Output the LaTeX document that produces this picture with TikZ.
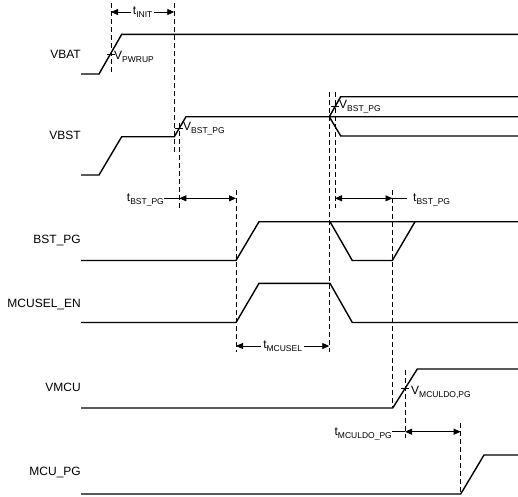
\documentclass[tikz,border=0pt]{standalone}
\usepackage{fontspec}
\setmainfont{Liberation Sans}
\usetikzlibrary{arrows.meta}
\tikzstyle{wave}=[black, line width=1.4pt, line join=miter]
\tikzstyle{guide}=[black, line width=0.7pt, dash pattern=on 5pt off 3pt]
\tikzstyle{dimarrow}=[black, line width=0.8pt, {Triangle[length=7pt, width=6pt]}-{Triangle[length=7pt, width=6pt]}]
\tikzstyle{leader}=[black, line width=0.8pt]
\tikzstyle{tick}=[black, line width=0.7pt]
\tikzstyle{signame}=[anchor=east, inner sep=0pt, font=\fontsize{12}{14}\selectfont]
\tikzstyle{lbl}=[inner sep=0pt, font=\fontsize{12}{14}\selectfont]
\newcommand{\lowtxt}[1]{\raisebox{-0.45ex}{\fontsize{8.5}{9}\selectfont #1}}

\begin{document}
\begin{tikzpicture}[x=1pt, y=-1pt]
\useasboundingbox (0,0) rectangle (518,496);

% signal names
\node [signame] (vbat) at (81,54) {VBAT};
\node [signame] (vbst) at (81,135.5) {VBST};
\node [signame] (bstpg) at (81,240.7) {BST\_PG};
\node [signame] (mcuselen) at (81,304) {MCUSEL\_EN};
\node [signame] (vmcu) at (81,387.5) {VMCU};
\node [signame] (mcupg) at (81,472.5) {MCU\_PG};

% waveforms
\draw[wave] (81,74) -- (99,74) -- (121.7,34.3) -- (518,34.3);
\draw[wave] (81,175) -- (99,175) -- (121.7,136.7) -- (174.3,136.7) -- (186,116.7) -- (518,116.7);
\draw[wave] (518,96.7) -- (340.7,96.7) -- (329.3,116.7) -- (340.7,136) -- (518,136);
\draw[wave] (81,260.5) -- (236,260.5) -- (259,221.7) -- (518,221.7);
\draw[wave] (330,221.7) -- (352.3,260.5) -- (392.3,260.5) -- (415,221.7);
\draw[wave] (81,322.5) -- (236,322.5) -- (259,283.3) -- (330,283.3) -- (352.3,322.5) -- (518,322.5);
\draw[wave] (81,408) -- (392.7,408) -- (417.3,369) -- (518,369);
\draw[wave] (81,494) -- (460.7,494) -- (484,455) -- (518,455);

% timing guides
\draw[guide] (111,3) -- (111,72);
\draw[guide] (174.3,3) -- (174.3,152);
\draw[guide] (179.3,123) -- (179.3,208);
\draw[guide] (236,190) -- (236,352);
\draw[guide] (329.3,92) -- (329.3,352);
\draw[guide] (335,92) -- (335,208);
\draw[guide] (392.5,190) -- (392.5,407);
\draw[guide] (405,370) -- (405,438);
\draw[guide] (460.7,423) -- (460.7,493);

% threshold ticks
\draw[tick] (107,54) -- (115,54);
\draw[tick] (175.3,128.2) -- (183.3,128.2);
\draw[tick] (331,106.7) -- (339,106.7);
\draw[tick] (401,388.5) -- (409,388.5);

% threshold labels
\node [lbl, anchor=west] (vpwrup) at (114,57) {V\lowtxt{PWRUP}};
\node [lbl, anchor=west] (vbstpg1) at (183,129) {V\lowtxt{BST\_PG}};
\node [lbl, anchor=west] (vbstpg2) at (339,107) {V\lowtxt{BST\_PG}};
\node [lbl, anchor=west] (vmculdo) at (411,392) {V\lowtxt{MCULDO,PG}};

% durations
\coordinate (init0) at (111,12);
\coordinate (init1) at (174.3,12);
\draw[dimarrow] (init0) -- (init1) node [lbl, midway, fill=white, inner xsep=2pt] (tinit) {t\lowtxt{INIT}};

\coordinate (bst0) at (179.3,198.3);
\coordinate (bst1) at (236,198.3);
\node [lbl, anchor=east] (tbstpg1) at (164,200) {t\lowtxt{BST\_PG}};
\draw[dimarrow] (bst0) -- (bst1);
\draw[leader] (tbstpg1.east |- bst0) -- (bst0);

\coordinate (bst2) at (335,198.3);
\coordinate (bst3) at (392.5,198.3);
\coordinate (bst4) at (407,198.3);
\node [lbl, anchor=west] (tbstpg2) at (413,200) {t\lowtxt{BST\_PG}};
\draw[dimarrow] (bst2) -- (bst3);
\draw[leader] (bst3) -- (bst4);

\coordinate (sel0) at (236,346);
\coordinate (sel1) at (329.3,346);
\draw[dimarrow] (sel0) -- (sel1) node [lbl, midway, fill=white, inner xsep=2pt] (tmcusel) {t\lowtxt{MCUSEL}};

\coordinate (ldo0) at (405,431.7);
\coordinate (ldo1) at (460.7,431.7);
\node [lbl, anchor=east] (tmculdo) at (392,434) {t\lowtxt{MCULDO\_PG}};
\draw[dimarrow] (ldo0) -- (ldo1);
\draw[leader] (tmculdo.east |- ldo0) -- (ldo0);
\end{tikzpicture}
\end{document}
